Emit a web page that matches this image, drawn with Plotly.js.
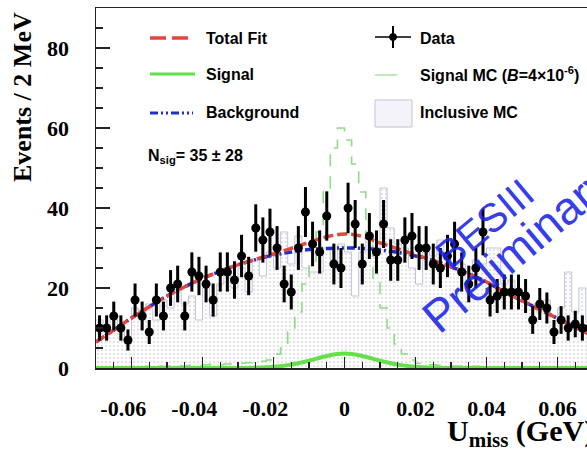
<!DOCTYPE html>
<html>
<head>
<meta charset="utf-8">
<script src="https://cdn.plot.ly/plotly-3.0.1.min.js"></script>
<style>html,body{margin:0;padding:0;background:#fff;}#plot{width:587px;height:449px;}</style>
</head>
<body>
<div id="plot"></div>
<script>
// ---- histogram binning (2 MeV bins from -0.07 to 0.07 GeV)
const binLow = -0.07;
const binWidth = 0.002;

// ---- data counts per bin
const dataCounts = [10, 10, 13, 10, 7, 17, 13, 9, 17, 13,
                    20, 21, 13, 24, 23, 21, 17, 24, 24, 22,
                    28, 23, 35, 32, 34, 30, 21, 19, 30, 39,
                    31, 29, 38, 26, 25, 40, 36, 26, 33, 29,
                    36, 27, 27, 32, 33, 30, 30, 26, 25, 28,
                    31, 24, 21, 25, 34, 17, 18, 19, 19, 19,
                    18, 12, 16, 15, 9, 12, 10, 11, 10, 10];

// ---- inclusive MC per bin
const inclusiveMC = [12, 9, 13, 10, 6, 15, 12, 16, 12, 17,
                     15, 19, 16, 18, 12, 20, 13, 21, 24, 20,
                     25, 19, 27, 23, 29, 25, 34, 26, 33, 25,
                     24, 24, 30, 27, 31, 29, 18, 29, 33, 30,
                     45, 35, 31, 30, 25, 21, 29, 28, 32, 27,
                     25, 26, 22, 27, 26, 30, 30, 21, 22, 19,
                     18, 16, 14, 17, 13, 15, 24, 14, 20, 12];

// ---- signal MC per bin (B = 4e-6)
const signalMC = [0.2, 0.2, 0.3, 0.2, 0.3, 0.4, 0.3, 0.4, 0.5, 0.4,
                  0.5, 0.6, 0.5, 0.7, 0.6, 0.8, 0.9, 0.8, 1.0, 1.1,
                  1.2, 1.3, 1.5, 1.7, 2.0, 3.5, 5.0, 9.0, 14, 21,
                  26, 34, 45, 55, 60, 57, 51, 44, 33, 22,
                  15, 10, 6, 3.5, 2.0, 1.2, 1.0, 0.8, 0.7, 0.6,
                  0.5, 0.5, 0.4, 0.4, 0.3, 0.3, 0.3, 0.2, 0.2, 0.2,
                  0.2, 0.2, 0.1, 0.1, 0.1, 0.1, 0.1, 0.1, 0.1, 0.1];

// ---- fit curves, sampled every 5 MeV
const curveX = [-0.070, -0.065, -0.060, -0.055, -0.050, -0.045, -0.040, -0.035, -0.030, -0.025,
                -0.020, -0.015, -0.010, -0.005, 0.000, 0.005, 0.010, 0.015, 0.020, 0.025,
                0.030, 0.035, 0.040, 0.045, 0.050, 0.055, 0.060, 0.065, 0.070];
const totalFit = [6.5, 9.5, 12.5, 15.3, 18.0, 20.3, 22.4, 24.2, 25.8, 27.2,
                  28.5, 29.9, 31.4, 32.8, 33.5, 32.9, 31.3, 29.8, 28.3, 26.9,
                  25.3, 23.5, 21.5, 19.0, 16.8, 14.6, 12.4, 10.2, 8.0];
const background = [6.5, 9.5, 12.5, 15.3, 18.0, 20.3, 22.4, 24.2, 25.8, 27.1,
                    28.2, 29.0, 29.6, 29.9, 30.0, 29.9, 29.5, 28.9, 28.0, 26.8,
                    25.3, 23.5, 21.5, 19.0, 16.8, 14.6, 12.4, 10.2, 8.0];
const signalFit = [0, 0, 0, 0, 0, 0, 0, 0, 0, 0.08,
                   0.3, 0.85, 1.8, 3.0, 3.6, 3.0, 1.8, 0.85, 0.3, 0.08,
                   0, 0, 0, 0, 0, 0, 0, 0, 0];

// ---- axis tick labels
const NB = '\u00a0';
const xTickVals = [-0.06, -0.04, -0.02, 0, 0.02, 0.04, 0.06];
const xTickText = ['-0.06' + NB + NB + NB, '-0.04' + NB + NB + NB, '-0.02' + NB + NB + NB, '0', '0.02', '0.04', '0.06'];
const yTickVals = [0, 20, 40, 60, 80];
const yTickText = ['0', '20', '40', '60', '80'];

// ---- derived bin geometry
const nBins = dataCounts.length;
const centers = dataCounts.map((_, i) => binLow + binWidth * (i + 0.5));
const edges = [];
for (let i = 0; i <= nBins; i++) edges.push(binLow + binWidth * i);
const stepY = arr => arr.concat([arr[arr.length - 1]]);
const dataErr = dataCounts.map(n => Math.sqrt(n));

const traces = [
  { // inclusive MC
    type: 'scatter', mode: 'lines', x: edges, y: stepY(inclusiveMC),
    line: {shape: 'hv', color: '#bfc3de', width: 1},
    fill: 'tozeroy', fillcolor: 'rgba(0,0,0,0)',
    fillpattern: {shape: '.', fgcolor: '#d9d9d9', bgcolor: '#fcfcfc', size: 4, solidity: 0.16},
    hoverinfo: 'skip', showlegend: false
  },
  { // signal MC
    type: 'scatter', mode: 'lines', x: edges, y: stepY(signalMC),
    line: {shape: 'hv', color: '#8fdc86', width: 1.6, dash: '12px,10px'},
    hoverinfo: 'skip', showlegend: false
  },
  { // background
    type: 'scatter', mode: 'lines', x: curveX, y: background,
    line: {shape: 'spline', color: '#1f2fc8', width: 3.5, dash: '8px,3px,2px,3px,2px,3px'},
    showlegend: false
  },
  { // total fit
    type: 'scatter', mode: 'lines', x: curveX, y: totalFit,
    line: {shape: 'spline', color: '#e5463c', width: 3.5, dash: '10px,4px'},
    showlegend: false
  },
  { // signal
    type: 'scatter', mode: 'lines', x: curveX, y: signalFit,
    line: {shape: 'spline', color: '#66e04a', width: 4},
    showlegend: false
  },
  { // data
    type: 'scatter', mode: 'markers', x: centers, y: dataCounts,
    marker: {color: '#000', size: 9, symbol: 'circle'},
    error_y: {type: 'data', array: dataErr, color: '#000', thickness: 3, width: 0},
    error_x: {type: 'constant', value: binWidth / 2, color: '#000', thickness: 3, width: 0},
    showlegend: false
  }
];

// pixel -> paper helpers for decorations
const PL = 96, PW = 491, PT = 8, PH = 360;
const px = v => (v - PL) / PW;
const py = v => (PT + PH - v) / PH;

const legFont = {family: 'Liberation Sans, Arial, sans-serif', size: 16, color: '#000'};
const ann = (x, y, text) => ({xref: 'paper', yref: 'paper', x: px(x), y: py(y), text: text,
  showarrow: false, xanchor: 'left', yanchor: 'middle', font: legFont});
const tickFont = {family: 'Liberation Serif, Times New Roman, serif', size: 22, color: '#000'};

const shapes = [
  {type: 'line', xref: 'paper', yref: 'paper', x0: px(150), x1: px(193), y0: py(38), y1: py(38),
   line: {color: '#e5463c', width: 3.5, dash: '16px,6px'}},
  {type: 'line', xref: 'paper', yref: 'paper', x0: px(150), x1: px(195), y0: py(74), y1: py(74),
   line: {color: '#66e04a', width: 3}},
  {type: 'line', xref: 'paper', yref: 'paper', x0: px(150), x1: px(193), y0: py(113), y1: py(113),
   line: {color: '#1f2fc8', width: 3, dash: '8px,3px,2px,3px,2px,3px'}},
  {type: 'line', xref: 'paper', yref: 'paper', x0: px(375), x1: px(411), y0: py(37), y1: py(37),
   line: {color: '#000', width: 1.5}},
  {type: 'line', xref: 'paper', yref: 'paper', x0: px(393), x1: px(393), y0: py(26), y1: py(48),
   line: {color: '#000', width: 2}},
  {type: 'circle', xref: 'paper', yref: 'paper', x0: px(389.5), x1: px(396.5), y0: py(33.5), y1: py(40.5),
   fillcolor: '#000', line: {color: '#000', width: 1}},
  {type: 'line', xref: 'paper', yref: 'paper', x0: px(375), x1: px(397), y0: py(75), y1: py(75),
   line: {color: '#a6e3a0', width: 1.5}},
  {type: 'rect', xref: 'paper', yref: 'paper', x0: px(375), x1: px(412), y0: py(100), y1: py(127),
   fillcolor: '#f4f4f8', line: {color: '#bfc3de', width: 1}}
];

const annotations = [
  ann(204, 38, '<b>Total Fit</b>'),
  ann(204, 74, '<b>Signal</b>'),
  ann(204, 113, '<b>Background</b>'),
  ann(146, 156, '<b>N<sub>sig</sub>= 35 ± 28</b>'),
  ann(418, 38, '<b>Data</b>'),
  ann(418, 74, '<b>Signal MC (<i>B</i>=4×10<sup>-6</sup>)</b>'),
  ann(418, 113, '<b>Inclusive MC</b>'),
  {xref: 'paper', yref: 'paper', x: px(484), y: py(224), text: 'BESIII', showarrow: false,
   textangle: -40, xanchor: 'center', yanchor: 'middle',
   font: {family: 'Liberation Sans, Arial, sans-serif', size: 40, color: 'rgba(25,35,230,0.9)'}},
  {xref: 'paper', yref: 'paper', x: px(517), y: py(249), text: 'Preliminary', showarrow: false,
   textangle: -40, xanchor: 'center', yanchor: 'middle',
   font: {family: 'Liberation Sans, Arial, sans-serif', size: 46, color: 'rgba(25,35,230,0.9)'}},
  {xref: 'paper', yref: 'paper', x: px(22), y: py(97), text: '<b>Events / 2 MeV</b>', showarrow: false,
   textangle: -90, xanchor: 'center', yanchor: 'middle',
   font: {family: 'Liberation Serif, Times New Roman, serif', size: 26, color: '#000'}},
  {xref: 'paper', yref: 'paper', x: px(445), y: py(433), text: '<b>U<sub>miss</sub> (GeV)</b>', showarrow: false,
   xanchor: 'left', yanchor: 'middle',
   font: {family: 'Liberation Serif, Times New Roman, serif', size: 30, color: '#000'}}
];

// y tick labels drawn as text at the tick values (data y, paper x)
yTickVals.forEach((v, i) => annotations.push({
  xref: 'paper', yref: 'y', x: px(71), y: v, text: '<b>' + yTickText[i] + '</b>',
  showarrow: false, xanchor: 'right', yanchor: 'middle', font: tickFont
}));

const axisCommon = {
  showline: true, linecolor: '#222', linewidth: 1.5,
  showgrid: false, zeroline: false, ticks: 'inside', tickcolor: '#222', tickwidth: 1.5,
  tickmode: 'array',
  tickfont: Object.assign({}, tickFont, {weight: 'bold'})
};

const layout = {
  width: 587, height: 449,
  margin: {l: PL, r: 587 - PL - PW, t: PT, b: 449 - PT - PH, pad: 0},
  paper_bgcolor: '#fff', plot_bgcolor: '#fff',
  showlegend: false,
  xaxis: Object.assign({}, axisCommon, {
    mirror: true,
    range: [binLow, binLow + binWidth * nBins - 0.0017],
    tickvals: xTickVals, ticktext: xTickText, ticklen: 11,
    ticklabelstandoff: 20,
    minor: {dtick: 0.005, tick0: 0, ticks: 'inside', ticklen: 6, tickcolor: '#222', tickwidth: 1.2}
  }),
  yaxis: Object.assign({}, axisCommon, {
    mirror: false,
    range: [0, 90],
    tickvals: yTickVals, showticklabels: false, ticklen: 14,
    minor: {dtick: 5, tick0: 0, ticks: 'inside', ticklen: 7, tickcolor: '#222', tickwidth: 1.2}
  }),
  shapes: shapes,
  annotations: annotations
};

Plotly.newPlot('plot', traces, layout, {displayModeBar: false, staticPlot: true});
</script>
</body>
</html>
